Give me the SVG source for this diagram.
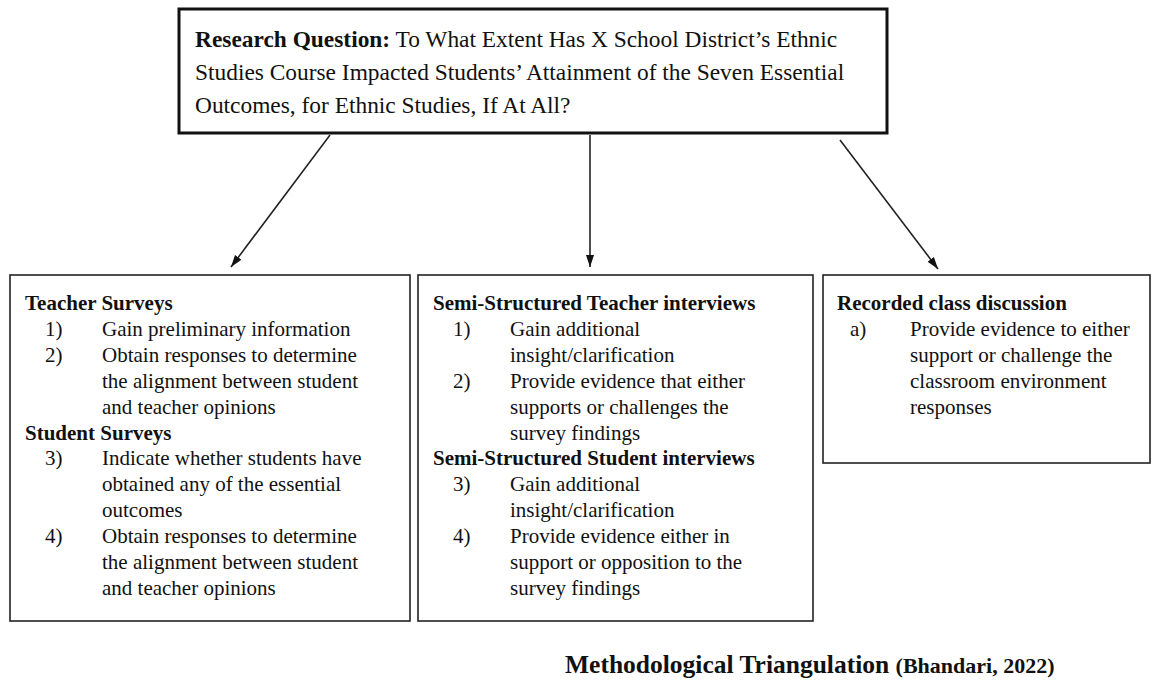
<svg xmlns="http://www.w3.org/2000/svg" width="1160" height="696" viewBox="0 0 1160 696">
<style>
.t{font-family:"Liberation Serif","Times New Roman",serif;fill:#111}
.q{font-size:23.4px}
.b{font-weight:bold}
.s{font-size:21px}
.box{fill:#fff;stroke:#222;stroke-width:1.6}
.conn{stroke:#222;stroke-width:1.6;fill:none;marker-end:url(#ah)}
</style>
<defs>
<marker id="ah" viewBox="0 0 12 10" refX="12" refY="5" markerWidth="12" markerHeight="10" markerUnits="userSpaceOnUse" orient="auto">
<path d="M0,1 L12,5 L0,9 Z" fill="#111"/>
</marker>
</defs>
<rect width="1160" height="696" fill="#fff"/>
<g id="connectors">
<line class="conn" x1="330" y1="135" x2="231" y2="267"/>
<line class="conn" x1="590" y1="135" x2="590" y2="267"/>
<line class="conn" x1="840" y1="140" x2="938" y2="269"/>
</g>
<g id="question">
<rect x="179" y="9" width="708" height="124" fill="#fff" stroke="#111" stroke-width="3"/>
<text class="t q" x="195" y="47"><tspan class="b">Research Question:</tspan> To What Extent Has X School District’s Ethnic</text>
<text class="t q" x="195" y="80">Studies Course Impacted Students’ Attainment of the Seven Essential</text>
<text class="t q" x="195" y="113">Outcomes, for Ethnic Studies, If At All?</text>
</g>
<g id="surveys">
<rect class="box" x="10" y="275" width="400" height="346"/>
<text class="t s b" x="25" y="310">Teacher Surveys</text>
<text class="t s" x="45" y="336">1)</text><text class="t s" x="102" y="336">Gain preliminary information</text>
<text class="t s" x="45" y="362">2)</text><text class="t s" x="102" y="362">Obtain responses to determine</text>
<text class="t s" x="102" y="388">the alignment between student</text>
<text class="t s" x="102" y="414">and teacher opinions</text>
<text class="t s b" x="25" y="440">Student Surveys</text>
<text class="t s" x="45" y="465">3)</text><text class="t s" x="102" y="465">Indicate whether students have</text>
<text class="t s" x="102" y="491">obtained any of the essential</text>
<text class="t s" x="102" y="517">outcomes</text>
<text class="t s" x="45" y="543">4)</text><text class="t s" x="102" y="543">Obtain responses to determine</text>
<text class="t s" x="102" y="569">the alignment between student</text>
<text class="t s" x="102" y="595">and teacher opinions</text>
</g>
<g id="interviews">
<rect class="box" x="418" y="275" width="395" height="346"/>
<text class="t s b" x="433" y="310">Semi-Structured Teacher interviews</text>
<text class="t s" x="453" y="336">1)</text><text class="t s" x="510" y="336">Gain additional</text>
<text class="t s" x="510" y="362">insight/clarification</text>
<text class="t s" x="453" y="388">2)</text><text class="t s" x="510" y="388">Provide evidence that either</text>
<text class="t s" x="510" y="414">supports or challenges the</text>
<text class="t s" x="510" y="440">survey findings</text>
<text class="t s b" x="433" y="465">Semi-Structured Student interviews</text>
<text class="t s" x="453" y="491">3)</text><text class="t s" x="510" y="491">Gain additional</text>
<text class="t s" x="510" y="517">insight/clarification</text>
<text class="t s" x="453" y="543">4)</text><text class="t s" x="510" y="543">Provide evidence either in</text>
<text class="t s" x="510" y="569">support or opposition to the</text>
<text class="t s" x="510" y="595">survey findings</text>
</g>
<g id="discussion">
<rect class="box" x="823" y="275" width="327" height="188"/>
<text class="t s b" x="837" y="310">Recorded class discussion</text>
<text class="t s" x="850" y="336">a)</text><text class="t s" x="910" y="336">Provide evidence to either</text>
<text class="t s" x="910" y="362">support or challenge the</text>
<text class="t s" x="910" y="388">classroom environment</text>
<text class="t s" x="910" y="414">responses</text>
</g>
<g id="caption">
<text class="t b" x="565" y="673" font-size="25.5">Methodological Triangulation <tspan font-size="22">(Bhandari, 2022)</tspan></text>
</g>
</svg>
